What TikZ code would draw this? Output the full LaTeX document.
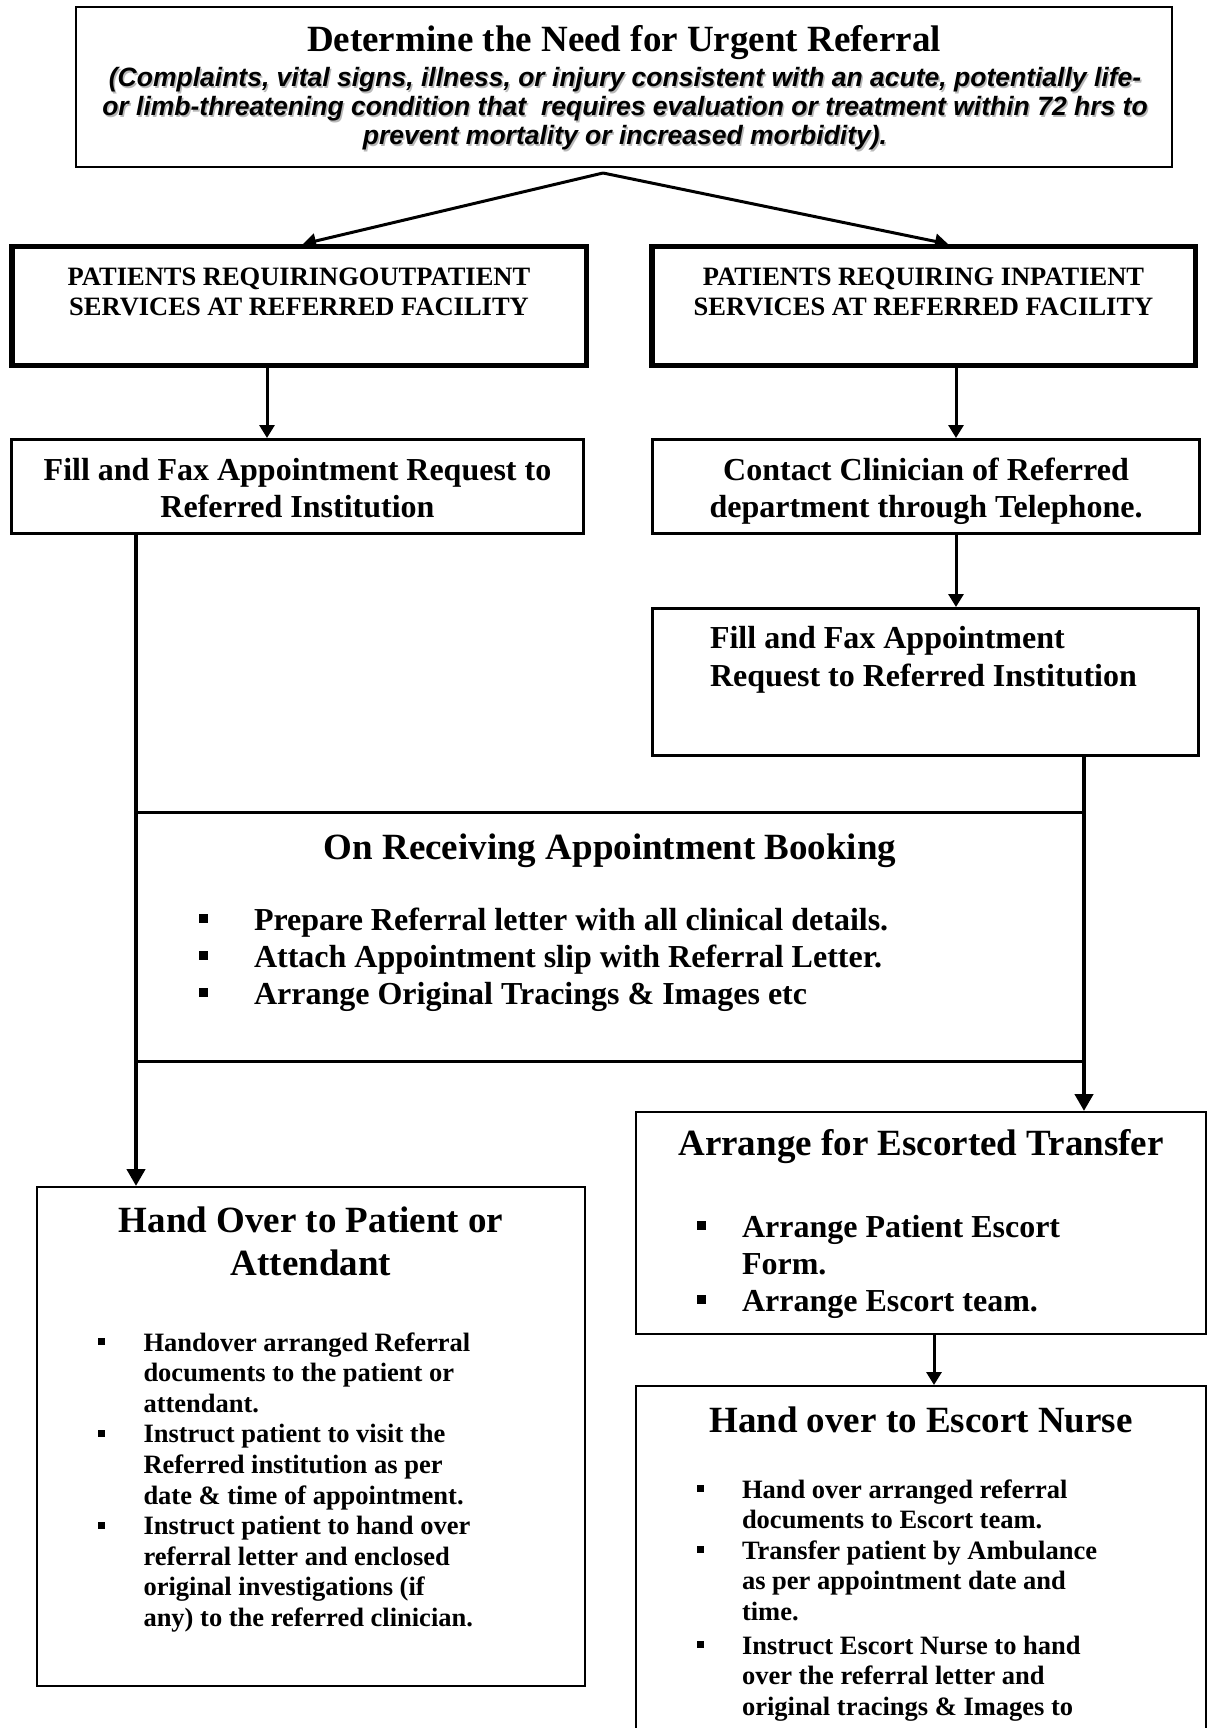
\documentclass[tikz,border=0pt]{standalone}
\usepackage{fontspec}
\setmainfont{Liberation Serif}
\newfontfamily\arialfont{Liberation Sans}
\usetikzlibrary{arrows.meta}

% type sizes (1pt = 1 unit of the drawing)
\newcommand\fhead{\fontsize{37}{43}\selectfont\bfseries}
\newcommand\fbig{\fontsize{32}{37}\selectfont\bfseries}
\newcommand\fmid{\fontsize{26.5}{30.5}\selectfont\bfseries}
\newcommand\fsub{\arialfont\fontsize{26.5}{29}\selectfont\bfseries\itshape}

\begin{document}
\begin{tikzpicture}[x=1pt,y=-1pt,
  frame/.style={draw=black, line width=2pt, inner sep=0pt, outer sep=1pt},
  midframe/.style={draw=black, line width=3.3pt, inner sep=0pt, outer sep=1.65pt},
  heavyframe/.style={draw=black, line width=5.5pt, inner sep=0pt, outer sep=2.75pt},
  txt/.style={inner sep=0pt, outer sep=0pt, anchor=base},
  ltxt/.style={inner sep=0pt, outer sep=0pt, anchor=base west},
  bsq/.style={fill=black, draw=none, inner sep=0pt, minimum size=#1},
  bsq/.default=9pt,
  thinarrow/.style={line width=3pt, -{Triangle[length=13pt,width=15pt]}},
  thickarrow/.style={line width=4.6pt, -{Triangle[length=17pt,width=18pt]}},
]
\useasboundingbox (0,0) rectangle (1208,1728);
\clip (0,0) rectangle (1208,1728);

% ---------- boxes ----------
\node[frame, minimum width=1096pt, minimum height=160pt] (top) at (624,87) {};
\node[heavyframe, minimum width=574.5pt, minimum height=118.5pt] (outL) at (299,306) {};
\node[heavyframe, minimum width=543.5pt, minimum height=118.5pt] (outR) at (923.5,306) {};
\node[midframe, minimum width=571.7pt, minimum height=93.7pt] (fillL) at (297.5,486.5) {};
\node[midframe, minimum width=546.7pt, minimum height=93.7pt] (contact) at (926,486.5) {};
\node[midframe, minimum width=545.7pt, minimum height=146.7pt] (fillR) at (925.5,682) {};
\node[draw=black, line width=3.3pt, inner sep=0pt, minimum width=948pt, minimum height=249pt] (recv) at (610,937) {};
\node[frame, minimum width=547.5pt, minimum height=499pt] (handP) at (310.75,1436.5) {};
\node[frame, minimum width=570pt, minimum height=222pt] (arrange) at (921,1223) {};
\node[frame, minimum width=570pt, minimum height=393pt] (escort) at (921,1582.5) {};

% ---------- top box text ----------
\node[txt, font=\fhead] (t0) at (624,52) {Determine the Need for Urgent Referral};
\foreach \s [count=\k] in {{(Complaints, vital signs, illness, or injury consistent with an acute, potentially life-},
  {or limb-threatening condition that\ \ requires evaluation or treatment within 72 hrs to},
  {prevent mortality or increased morbidity).}}
{
  \node[txt, font=\fsub, text=gray!55] (sh\k) at ({626.5}, {87+(\k-1)*29+1.5}) {\s};
  \node[txt, font=\fsub] (sub\k) at (625, {87+(\k-1)*29}) {\s};
}

% ---------- first level ----------
\foreach \s [count=\k] in {{PATIENTS REQUIRINGOUTPATIENT},{SERVICES AT REFERRED FACILITY}}
  \node[txt, font=\fmid] (ol\k) at (299, {285+(\k-1)*30}) {\s};
\foreach \s [count=\k] in {{PATIENTS REQUIRING INPATIENT},{SERVICES AT REFERRED FACILITY}}
  \node[txt, font=\fmid] (or\k) at (923.5, {285+(\k-1)*30}) {\s};

\foreach \s [count=\k] in {{Fill and Fax Appointment Request to},{Referred Institution}}
  \node[txt, font=\fbig] (fl\k) at (297.5, {480+(\k-1)*37}) {\s};
\foreach \s [count=\k] in {{Contact Clinician of Referred},{department through Telephone.}}
  \node[txt, font=\fbig] (cl\k) at (926, {480+(\k-1)*37}) {\s};
\foreach \s [count=\k] in {{Fill and Fax Appointment},{Request to Referred Institution}}
  \node[ltxt, font=\fbig] (fr\k) at (710, {648+(\k-1)*38}) {\s};

% ---------- appointment booking ----------
\node[txt, font=\fhead] (rv0) at (610,859) {On Receiving Appointment Booking};
\foreach \s [count=\k] in {{Prepare Referral letter with all clinical details.},
  {Attach Appointment slip with Referral Letter.},
  {Arrange Original Tracings \& Images etc}}
{
  \node[bsq] (rvb\k) at (203.5, {930+(\k-1)*37-11.5}) {};
  \node[ltxt, font=\fbig] (rv\k) at (254, {930+(\k-1)*37}) {\s};
}

% ---------- hand over to patient ----------
\foreach \s [count=\k] in {{Hand Over to Patient or},{Attendant}}
  \node[txt, font=\fhead] (hp\k) at (311, {1232+(\k-1)*43}) {\s};
\foreach \s [count=\k] in {{Handover arranged Referral},{documents to the patient or},{attendant.},
  {Instruct patient to visit the},{Referred institution as per},{date \& time of appointment.},
  {Instruct patient to hand over},{referral letter and enclosed},{original investigations (if},
  {any) to the referred clinician.}}
  \node[ltxt, font=\fmid] (hl\k) at (143.5, {1351+(\k-1)*30.6}) {\s};
\foreach \k in {1,4,7}
  \node[bsq=7pt] (hb\k) at (101, {1351+(\k-1)*30.6-9.5}) {};

% ---------- escorted transfer ----------
\node[txt, font=\fhead] (ar0) at (921,1155) {Arrange for Escorted Transfer};
\foreach \s [count=\k] in {{Arrange Patient Escort},{Form.},{Arrange Escort team.}}
  \node[ltxt, font=\fbig] (al\k) at (742, {1237+(\k-1)*37}) {\s};
\foreach \k in {1,3}
  \node[bsq] (ab\k) at (701.5, {1237+(\k-1)*37-11.5}) {};

\node[txt, font=\fhead] (es0) at (921,1432) {Hand over to Escort Nurse};
\foreach \s/\yy [count=\k] in {{Hand over arranged referral}/1498,{documents to Escort team.}/1528.5,
  {Transfer patient by Ambulance}/1559,{as per appointment date and}/1589.5,{time.}/1620,
  {Instruct Escort Nurse to hand}/1654,{over the referral letter and}/1684.5,
  {original tracings \& Images to}/1715}
  \node[ltxt, font=\fmid] (el\k) at (742, \yy) {\s};
\foreach \yy [count=\k] in {1498,1559,1654}
  \node[bsq=7pt] (eb\k) at (700, {\yy-9.5}) {};

% ---------- connectors ----------
\coordinate (apex) at ([xshift=-21pt, yshift=-5pt]top.south);
\draw[thinarrow] (apex) -- ([xshift=294pt]outL.north west);
\draw[thinarrow] (apex) -- ([xshift=299pt]outR.north west);

\draw[thinarrow] ([xshift=-32pt]outL.south) -- ([xshift=-32pt]outL.south |- fillL.north);
\draw[thinarrow] ([xshift=32.5pt]outR.south) -- ([xshift=32.5pt]outR.south |- contact.north);
\draw[thinarrow] ([xshift=30pt]contact.south) -- ([xshift=30pt]contact.south |- fillR.north);

\draw[thickarrow] ([xshift=-161.5pt]fillL.south) -- ([xshift=-161.5pt]fillL.south |- handP.north);
\draw[thickarrow] ([xshift=158.5pt]fillR.south) -- ([xshift=158.5pt]fillR.south |- arrange.north);
\draw[thinarrow] ([xshift=13pt]arrange.south) -- ([xshift=13pt]arrange.south |- escort.north);
\end{tikzpicture}
\end{document}
